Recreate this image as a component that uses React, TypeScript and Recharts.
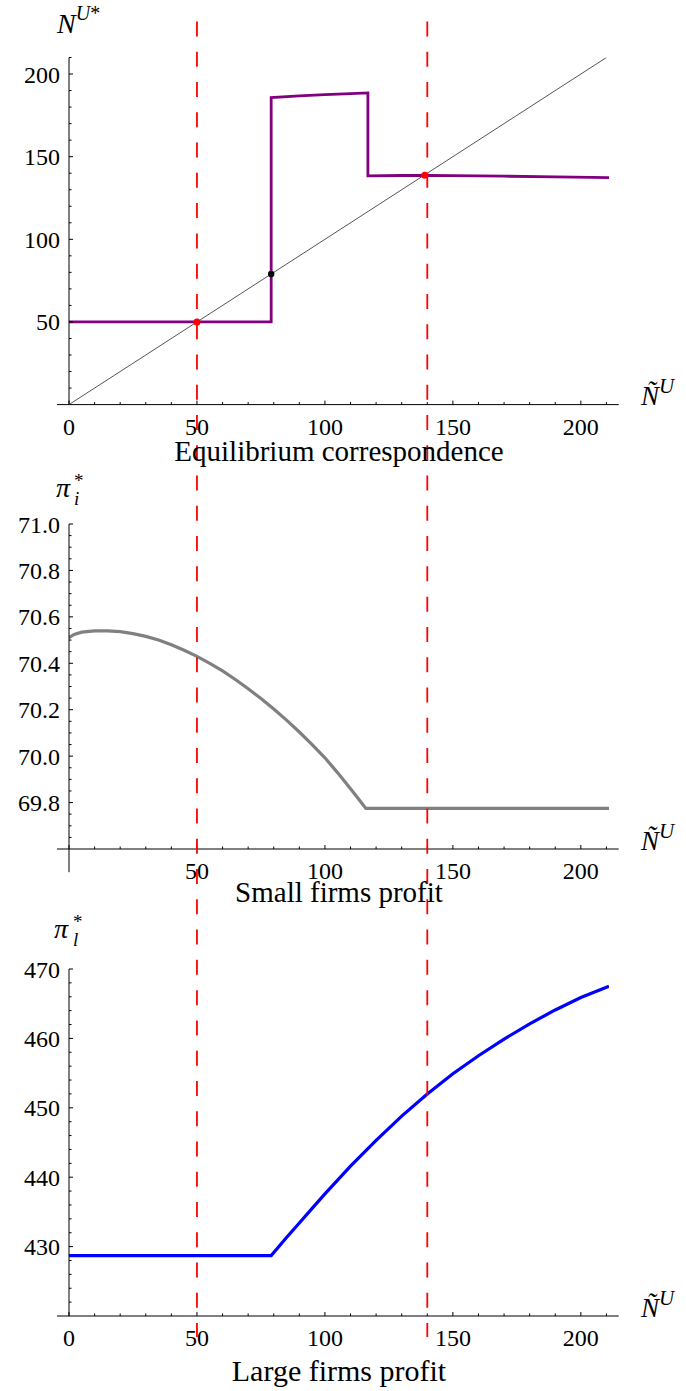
import React from 'react';
import { LineChart, Line, XAxis, YAxis, ReferenceLine, ReferenceDot } from 'recharts';

// panel 1: equilibrium correspondence
const corrX = [0, 79, 79, 90, 100, 110, 116.8, 116.8, 130, 140, 150, 170, 190, 211];
const corrY = [50, 50, 185.7, 186.8, 187.6, 188.2, 188.6, 138.4, 138.6, 138.6, 138.5, 138.2, 137.8, 137.3];
const diagX = [0, 210];
const diagY = [0, 210];

// panel 2: small firms profit
const smallX = [0, 2, 5, 10, 15, 20, 25, 30, 35, 40, 45, 50, 55, 60, 65, 70, 75, 80, 85, 90, 95, 100, 105, 110, 113, 116, 140, 170, 211];
const smallY = [70.51, 70.524, 70.534, 70.54, 70.54, 70.536, 70.528, 70.516, 70.5, 70.48, 70.456, 70.43, 70.4, 70.367, 70.33, 70.29, 70.248, 70.203, 70.155, 70.104, 70.05, 69.993, 69.928, 69.86, 69.818, 69.775, 69.775, 69.775, 69.775];

// panel 3: large firms profit
const largeX = [0, 79, 85, 90, 95, 100, 110, 120, 130, 140, 150, 160, 170, 180, 190, 200, 211];
const largeY = [428.7, 428.7, 431.3, 433.4, 435.5, 437.6, 441.6, 445.3, 448.8, 452.0, 454.9, 457.5, 459.9, 462.1, 464.1, 465.9, 467.5];

const equilibria = [50, 140];

const xTicks = [0, 10, 20, 30, 40, 50, 60, 70, 80, 90, 100, 110, 120, 130, 140, 150, 160, 170, 180, 190, 200, 210];
const xLabels = [0, 50, 100, 150, 200];
const xLabelsNoZero = [50, 100, 150, 200];

const corrTicks = [10, 20, 30, 40, 50, 60, 70, 80, 90, 100, 110, 120, 130, 140, 150, 160, 170, 180, 190, 200, 210];
const corrLabels = [50, 100, 150, 200];
const smallTicks = [69.65, 69.7, 69.75, 69.8, 69.85, 69.9, 69.95, 70.0, 70.05, 70.1, 70.15, 70.2, 70.25, 70.3, 70.35, 70.4, 70.45, 70.5, 70.55, 70.6, 70.65, 70.7, 70.75, 70.8, 70.85, 70.9, 70.95, 71.0];
const smallLabels = [69.8, 70.0, 70.2, 70.4, 70.6, 70.8, 71.0];
const largeTicks = [422, 424, 426, 428, 430, 432, 434, 436, 438, 440, 442, 444, 446, 448, 450, 452, 454, 456, 458, 460, 462, 464, 466, 468, 470];
const largeLabels = [430, 440, 450, 460, 470];

const FONT = '"Liberation Serif", "Times New Roman", serif';
const W = 686;
const H = 1391;

const toRows = (xs: number[], ys: number[]) => xs.map((x, i) => ({ x, y: ys[i] }));

const near = (list: number[], v: number) => list.some((l) => Math.abs(l - v) < 1e-6);

const labelStyle: React.CSSProperties = { fontFamily: FONT, fontSize: 24, fill: '#000' };

function XTick(props: any) {
  const { x, y, payload, labels } = props;
  const major = payload.value % 50 === 0;
  return (
    <g>
      <line x1={x} x2={x} y1={y} y2={y - (major ? 4 : 2.5)} stroke="#000" strokeWidth={1} />
      {near(labels, payload.value) && (
        <text x={x} y={y + 30} textAnchor="middle" style={labelStyle}>
          {payload.value}
        </text>
      )}
    </g>
  );
}

function YTick(props: any) {
  const { x, y, payload, labels, digits } = props;
  const major = near(labels, payload.value);
  return (
    <g>
      <line x1={x} x2={x + (major ? 4 : 2.5)} y1={y} y2={y} stroke="#000" strokeWidth={1} />
      {major && (
        <text x={x - 9} y={y + 8.5} textAnchor="end" style={labelStyle}>
          {payload.value.toFixed(digits)}
        </text>
      )}
    </g>
  );
}

const layer: React.CSSProperties = { position: 'absolute', left: 0, top: 0 };

function Panel({
  top,
  bottom,
  domain,
  ticks,
  yLabels,
  digits,
  xLabelSet,
  children,
}: {
  top: number;
  bottom: number;
  domain: [number, number];
  ticks: number[];
  yLabels: number[];
  digits: number;
  xLabelSet: number[];
  children: React.ReactNode;
}) {
  return (
    <div style={layer}>
      <LineChart width={W} height={H} margin={{ top, left: 0, right: 77, bottom: H - bottom - 40 }}>
        <XAxis
          type="number"
          dataKey="x"
          domain={[0, 211]}
          allowDataOverflow
          ticks={xTicks}
          interval={0}
          axisLine={false}
          tickLine={false}
          tickSize={0}
          tickMargin={0}
          height={40}
          tick={<XTick labels={xLabelSet} />}
        />
        <YAxis
          type="number"
          dataKey="y"
          domain={domain}
          allowDataOverflow
          ticks={ticks}
          interval={0}
          width={69}
          axisLine={{ stroke: '#000', strokeWidth: 1 }}
          tickLine={false}
          tickSize={0}
          tickMargin={0}
          tick={<YTick labels={yLabels} digits={digits} />}
        />
        <ReferenceLine
          segment={[
            { x: -4.7, y: domain[0] },
            { x: 214.8, y: domain[0] },
          ]}
          stroke="#000"
          strokeWidth={1}
          ifOverflow="visible"
        />
        {children}
      </LineChart>
    </div>
  );
}

export default function App() {
  const corrRows = toRows(corrX, corrY);
  const diagRows = toRows(diagX, diagY);
  const smallRows = toRows(smallX, smallY);
  const largeRows = toRows(largeX, largeY);

  return (
    <div style={{ position: 'absolute', left: 0, top: 0, width: W, height: H, background: '#fff' }}>
      <Panel top={57.5} bottom={404.6} domain={[0, 210]} ticks={corrTicks} yLabels={corrLabels} digits={0} xLabelSet={xLabels}>
        <Line data={diagRows} dataKey="y" type="linear" stroke="#555" strokeWidth={1} dot={false} isAnimationActive={false} />
        <Line data={corrRows} dataKey="y" type="linear" stroke="#800080" strokeWidth={2.8} dot={false} isAnimationActive={false} />
        <ReferenceDot x={79} y={79} r={3.2} fill="#000" stroke="none" />
        <ReferenceDot x={50} y={50} r={3.5} fill="#ff0000" stroke="none" />
        <ReferenceDot x={139} y={138.7} r={3.5} fill="#ff0000" stroke="none" />
      </Panel>

      <Panel top={524} bottom={849} domain={[69.6, 71.0]} ticks={smallTicks} yLabels={smallLabels} digits={1} xLabelSet={xLabelsNoZero}>
        <ReferenceLine
          segment={[
            { x: 0, y: 69.5 },
            { x: 0, y: 69.6 },
          ]}
          stroke="#000"
          strokeWidth={1}
          ifOverflow="visible"
        />
        <Line data={smallRows} dataKey="y" type="linear" stroke="#808080" strokeWidth={3.2} dot={false} isAnimationActive={false} />
      </Panel>

      <Panel top={969} bottom={1316} domain={[420, 470]} ticks={largeTicks} yLabels={largeLabels} digits={0} xLabelSet={xLabels}>
        <Line data={largeRows} dataKey="y" type="linear" stroke="#0000ff" strokeWidth={3.2} dot={false} isAnimationActive={false} />
      </Panel>

      {/* dashed equilibrium markers across all three panels */}
      <div style={{ ...layer, pointerEvents: 'none' }}>
        <LineChart width={W} height={H} data={diagRows} margin={{ top: 21.5, left: 69, right: 77, bottom: H - 1337 }}>
          <XAxis hide type="number" dataKey="x" domain={[0, 211]} allowDataOverflow />
          <YAxis hide type="number" domain={[0, 1]} allowDataOverflow />
          {equilibria.map((e) => (
            <ReferenceLine
              key={e}
              segment={[
                { x: e, y: 1 },
                { x: e, y: 0 },
              ]}
              stroke="#ff0000"
              strokeWidth={1.8}
              strokeDasharray="15 15.27"
            />
          ))}
        </LineChart>
      </div>

      <svg width={W} height={H} style={{ ...layer, pointerEvents: 'none', fontFamily: FONT }}>
        <text x={57} y={33} fontSize={28} fontStyle="italic">
          N
          <tspan fontSize={20} dy={-13}>U</tspan>
          <tspan fontSize={20} fontStyle="normal">*</tspan>
        </text>

        <text x={56} y={497} fontSize={28} fontStyle="italic">π</text>
        <text x={74} y={505} fontSize={19} fontStyle="italic">i</text>
        <text x={74} y={487} fontSize={19}>*</text>

        <text x={54} y={938} fontSize={28} fontStyle="italic">π</text>
        <text x={73} y={946} fontSize={19} fontStyle="italic">l</text>
        <text x={73} y={928} fontSize={19}>*</text>

        {[405, 850, 1317].map((b) => (
          <text key={b} x={641} y={b} fontSize={27} fontStyle="italic">
            Ñ
            <tspan fontSize={21} dy={-12}>U</tspan>
          </text>
        ))}

        <text x={339} y={461} fontSize={29} textAnchor="middle">Equilibrium correspondence</text>
        <text x={339} y={902} fontSize={29} textAnchor="middle">Small firms profit</text>
        <text x={339} y={1381} fontSize={30} textAnchor="middle">Large firms profit</text>
      </svg>
    </div>
  );
}
